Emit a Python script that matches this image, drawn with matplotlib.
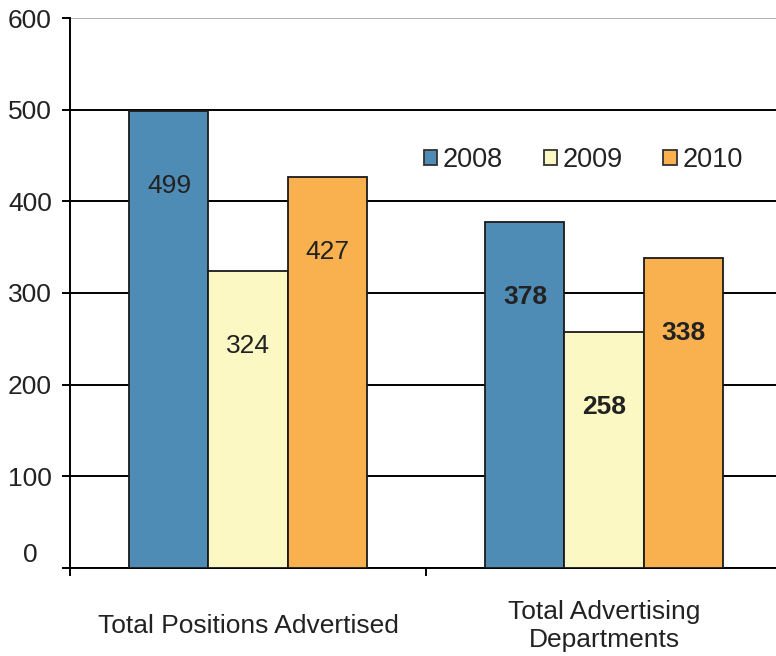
import matplotlib
matplotlib.use('Agg')
import numpy as np
import matplotlib.pyplot as plt

categories = ['Total Positions Advertised', 'Total Advertising\nDepartments']
years = ['2008', '2009', '2010']
values_2008 = [499, 378]
values_2009 = [324, 258]
values_2010 = [427, 338]
yticks = [0, 100, 200, 300, 400, 500, 600]

colors = ['#4F8CB5', '#FCF8C3', '#F9B14F']
series = [values_2008, values_2009, values_2010]

plt.rcParams['font.family'] = ['Liberation Sans', 'DejaVu Sans']
txt = '#222222'
fs = 19

fig = plt.figure(figsize=(7.76, 6.56), dpi=100)
ax = fig.add_axes([70 / 776, 88 / 656, 712 / 776, 550 / 656])

x = np.arange(len(categories))
w = 0.222
for i, (vals, c, yr) in enumerate(zip(series, colors, years)):
    bars = ax.bar(x + (i - 1) * w, vals, w, color=c, edgecolor='#1a1a1a',
                  linewidth=1.3, label=yr, zorder=3)
    for j, b in enumerate(bars):
        ax.annotate(str(vals[j]), xy=(b.get_x() + b.get_width() / 2, vals[j]),
                    xytext=(0, -75), textcoords='offset pixels',
                    ha='center', va='center', fontsize=fs, color=txt,
                    fontweight='bold' if j == 1 else 'normal', zorder=4)

ax.set_xlim(-0.5, 1.5)
ax.set_ylim(0, 600)
ax.set_yticks(yticks)
ax.set_yticklabels(['' if v == 0 else str(v) for v in yticks])
ax.annotate('0', xy=(0, 0), xycoords=('axes fraction', 'data'),
            xytext=(-32, 13), textcoords='offset pixels',
            ha='right', va='center', fontsize=fs, color=txt)

ax.grid(axis='y', color='black', linewidth=1.4, zorder=0)
ax.get_ygridlines()[-1].set_color('#b0b0b0')
ax.set_axisbelow(True)

ax.set_xticks(x)
ax.set_xticklabels(categories)
ax.set_xticks([-0.5, 0.5, 1.5], minor=True)
ax.tick_params(axis='x', which='major', length=0, pad=42, labelsize=fs, labelcolor=txt)
ax.tick_params(axis='x', which='minor', length=6, width=1.4, direction='out')
for lab in ax.get_xticklabels():
    lab.set_verticalalignment('center')
ax.tick_params(axis='y', length=6, width=1.4, pad=7, labelsize=fs, labelcolor=txt)

for s in ['top', 'right']:
    ax.spines[s].set_visible(False)
for s in ['left', 'bottom']:
    ax.spines[s].set_linewidth(1.4)
    ax.spines[s].set_color('black')

leg = ax.legend(loc='center left', bbox_to_anchor=(0.497, 0.742), ncol=3,
                frameon=False, fontsize=fs + 0.5, handlelength=0.5, handleheight=0.5,
                handletextpad=0.2, columnspacing=1.5, borderpad=0, borderaxespad=0)
for t in leg.get_texts():
    t.set_color(txt)
for h in leg.legend_handles:
    h.set_edgecolor('#333333')

fig.savefig('out.png', dpi=100)
